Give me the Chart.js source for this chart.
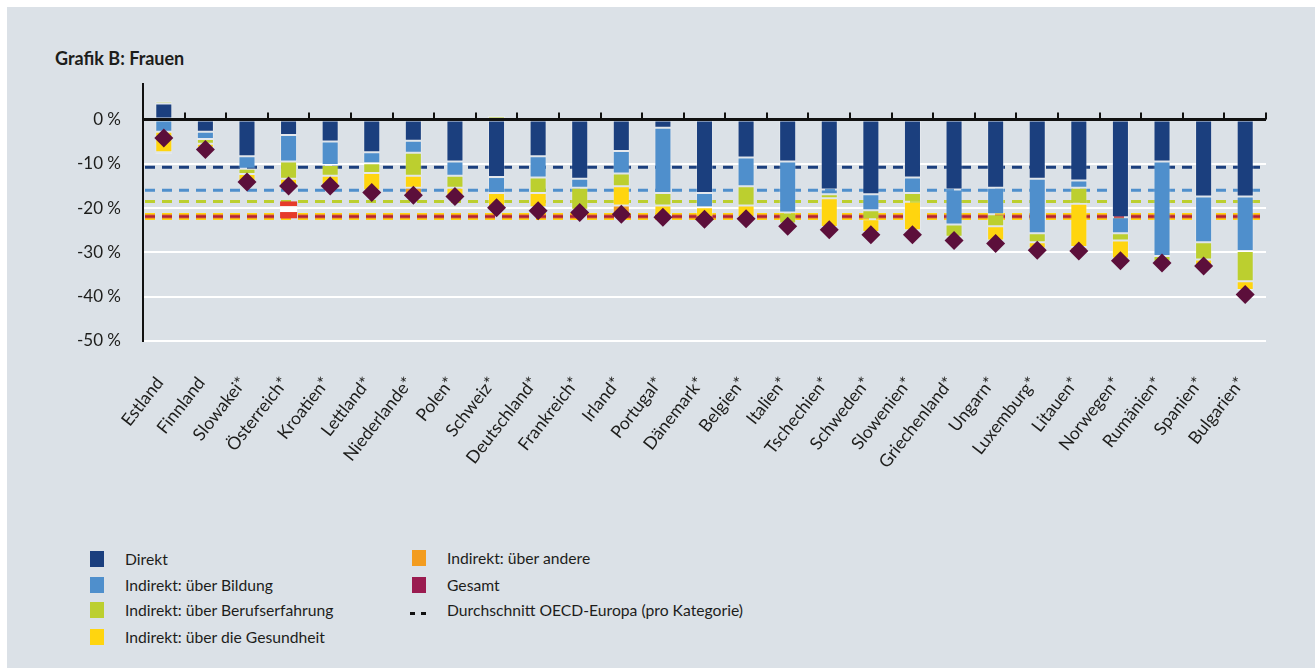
<!DOCTYPE html>
<html>
<head>
<meta charset="utf-8">
<script src="https://cdn.jsdelivr.net/npm/chart.js@4.4.1/dist/chart.umd.min.js"></script>
<style>
  body { margin: 0; background: #fff; font-family: Lato, sans-serif; color: #1d1d1b; }
  #panel { position: absolute; left: 7px; top: 7px; width: 1308px; height: 661px; background: #dbe1e7; }
  #title { position: absolute; left: 55px; top: 47px; font-weight: bold; font-size: 18px; }
  #wrap { position: absolute; left: 0; top: 0; width: 1315px; height: 500px; }
  .item { position: absolute; font-size: 15.7px; line-height: 18px; white-space: nowrap; }
  .item .sw { position: absolute; left: -35px; top: 1px; width: 14px; height: 16px; }
  .item .dash { position: absolute; left: -37px; top: 11px; width: 16px; height: 3px;
    background: linear-gradient(to right, #111 0 5px, transparent 5px 11px, #111 11px 16px); }
</style>
</head>
<body>
<div id="panel"></div>
<div id="title">Grafik B: Frauen</div>
<div id="wrap"><canvas id="chart"></canvas></div>
<div id="legend"></div>
<script>
const countries = ['Estland', 'Finnland', 'Slowakei*', 'Österreich*', 'Kroatien*', 'Lettland*', 'Niederlande*',
  'Polen*', 'Schweiz*', 'Deutschland*', 'Frankreich*', 'Irland*', 'Portugal*', 'Dänemark*', 'Belgien*',
  'Italien*', 'Tschechien*', 'Schweden*', 'Slowenien*', 'Griechenland*', 'Ungarn*', 'Luxemburg*',
  'Litauen*', 'Norwegen*', 'Rumänien*', 'Spanien*', 'Bulgarien*'];

// contributions in percent (stacked)
const direkt     = [3.6, -2.8, -8.3, -3.5, -5.0, -7.4, -4.8, -9.5, -13.0, -8.3, -13.4, -7.1, -1.9, -16.6, -8.6,
  -9.5, -15.8, -16.9, -13.1, -15.8, -15.4, -13.4, -13.8, -22.1, -9.5, -17.4, -17.4];
const bildung    = [-2.8, -1.6, -2.8, -6.0, -5.3, -2.5, -2.7, -3.2, -3.6, -4.8, -2.0, -5.1, -14.7, -3.2, -6.5,
  -11.5, -1.1, -3.6, -3.5, -7.9, -6.0, -12.3, -1.6, -3.6, -21.3, -10.3, -12.3];
const erfahrung  = [0.5, -1.1, -1.2, -3.9, -2.4, -2.2, -5.2, -2.7, 0.8, -3.5, -5.0, -2.9, -2.8, 0, -4.3,
  -2.5, -0.9, -2.0, -2.0, -2.8, -2.7, -2.0, -3.6, -1.6, -1.3, -3.9, -6.8];
const gesundheit = [-4.6, -0.9, -2.0, -1.5, -2.2, -3.9, -2.7, -1.8, -3.2, -3.2, 0, -4.3, -2.2, -2.2, -2.6,
  0, -6.5, -2.9, -6.4, 0, -3.2, -1.4, -9.8, -4.1, 0, -1.3, -2.0];
const andere     = [-0.4, 0, 0, 0.3, 0.3, 0, -1.4, 0, 0, 0, 0.3, -2.2, 0.3, 0, 0,
  0, 0.3, 0, 0, 0.3, 0.3, 0, -0.6, 0.3, 0.3, 0, 0];
const gesamt     = [-4.2, -6.8, -14.1, -15.0, -15.0, -16.5, -17.1, -17.4, -19.9, -20.6, -21.0, -21.4, -22.1, -22.5, -22.4,
  -24.1, -24.9, -26.0, -26.0, -27.3, -28.0, -29.5, -29.7, -31.9, -32.4, -33.1, -39.5];

// OECD-Europe averages, shown cumulatively: Direkt, Bildung, Berufserfahrung, Gesundheit, andere, Gesamt
const averages = [-10.8, -16.0, -18.5, -21.9, -21.9, -21.9];
const yTicks = [0, -10, -20, -30, -40, -50];

const seriesLabels = ['Direkt', 'Indirekt: über Bildung', 'Indirekt: über Berufserfahrung',
  'Indirekt: über die Gesundheit', 'Indirekt: über andere', 'Gesamt'];
const colors = ['#1b3f7e', '#4f8fcc', '#bccf2f', '#ffd50f', '#f39c1f', '#9a1b50'];
const avgWidths = [3, 3, 3, 7, 5, 2.5];
const avgColors = ['#1b3f7e', '#4f8fcc', '#bccf2f', '#ffd50f', '#f39c1f', '#b0203f'];

const flagIndex = 3;
const flagRange = [-18.5, -19.6, -20.9, -22.3];

const overlay = {
  id: 'overlay',
  beforeDatasetsDraw(chart) {
    const { ctx, chartArea: a, scales: { x, y } } = chart;
    ctx.save();
    ctx.setLineDash([10, 7]);
    averages.forEach((v, i) => {
      const py = y.getPixelForValue(v);
      ctx.strokeStyle = avgColors[i];
      ctx.lineWidth = avgWidths[i];
      ctx.beginPath();
      ctx.moveTo(a.left + 2, py);
      ctx.lineTo(a.right, py);
      ctx.stroke();
    });
    ctx.setLineDash([]);
    // Austrian flag
    const cx = x.getPixelForValue(flagIndex);
    const fc = ['#e63b2b', '#ffffff', '#e63b2b'];
    for (let k = 0; k < 3; k++) {
      const y0 = y.getPixelForValue(flagRange[k]);
      const y1 = y.getPixelForValue(flagRange[k + 1]);
      ctx.fillStyle = fc[k];
      ctx.fillRect(cx - 8.5, y0, 17, y1 - y0);
    }
    ctx.restore();
  },
  afterDatasetsDraw(chart) {
    const { ctx, chartArea: a, scales: { x, y } } = chart;
    const py = y.getPixelForValue(0);
    ctx.save();
    ctx.strokeStyle = '#111';
    ctx.lineWidth = 3;
    ctx.beginPath();
    ctx.moveTo(a.left, py);
    ctx.lineTo(a.right, py);
    ctx.stroke();
    ctx.lineWidth = 2;
    const step = x.getPixelForValue(1) - x.getPixelForValue(0);
    for (let i = 0; i < countries.length; i++) {
      const px = Math.round(x.getPixelForValue(i) + step / 2);
      ctx.beginPath();
      ctx.moveTo(px, py);
      ctx.lineTo(px, py - 7);
      ctx.stroke();
    }
    ctx.restore();
  }
};

const barData = [direkt, bildung, erfahrung, gesundheit, andere];
const datasets = barData.map((d, i) => ({
  type: 'bar',
  label: seriesLabels[i],
  data: d,
  backgroundColor: colors[i],
  borderColor: 'rgba(255,255,255,0.25)',
  borderWidth: 1,
  borderSkipped: false,
  barPercentage: 0.41,
  categoryPercentage: 1,
  stack: 'parts',
  order: 1
}));
datasets.push({
  type: 'line',
  label: seriesLabels[5],
  data: gesamt,
  showLine: false,
  stack: 'total',
  pointStyle: 'rectRot',
  pointRadius: 9.5,
  pointBackgroundColor: '#5c0f3b',
  pointBorderWidth: 0,
  order: 0
});

Chart.defaults.font.family = 'Lato, sans-serif';
Chart.defaults.color = '#1d1d1b';

new Chart(document.getElementById('chart'), {
  data: { labels: countries, datasets: datasets },
  options: {
    responsive: true,
    maintainAspectRatio: false,
    animation: false,
    layout: { padding: { top: 84, right: 49, left: 0, bottom: 0 } },
    plugins: { legend: { display: false }, tooltip: { enabled: false } },
    scales: {
      x: {
        stacked: true,
        offset: true,
        grid: { display: false },
        border: { display: false },
        ticks: { minRotation: 52, maxRotation: 52, padding: 24, labelOffset: -4, font: { size: 17.5 }, autoSkip: false },
        afterFit: s => { s.height = 159; }
      },
      y: {
        stacked: true,
        min: -50,
        max: 8,
        afterBuildTicks: s => { s.ticks = yTicks.map(v => ({ value: v })); },
        grid: {
          color: c => (c.tick && c.tick.value === 0 ? 'rgba(0,0,0,0)' : '#ffffff'),
          lineWidth: 2,
          drawTicks: false
        },
        border: { display: true, color: '#111', width: 2 },
        ticks: { padding: 22, font: { size: 17 }, callback: v => v + ' %' },
        afterFit: s => { s.width = 143; }
      }
    }
  },
  plugins: [overlay]
});

// legend
const legend = document.getElementById('legend');
const legendItems = [
  { text: seriesLabels[0], color: colors[0], x: 125, y: 550 },
  { text: seriesLabels[1], color: colors[1], x: 125, y: 576 },
  { text: seriesLabels[2], color: colors[2], x: 125, y: 601 },
  { text: seriesLabels[3], color: colors[3], x: 125, y: 628 },
  { text: seriesLabels[4], color: colors[4], x: 447, y: 549 },
  { text: seriesLabels[5], color: colors[5], x: 447, y: 576 },
  { text: 'Durchschnitt OECD-Europa (pro Kategorie)', color: null, x: 447, y: 601 }
];
legendItems.forEach(it => {
  const d = document.createElement('div');
  d.className = 'item';
  d.style.left = it.x + 'px';
  d.style.top = it.y + 'px';
  d.innerHTML = (it.color ? '<span class="sw" style="background:' + it.color + '"></span>' : '<span class="dash"></span>') + it.text;
  legend.appendChild(d);
});
</script>
</body>
</html>
